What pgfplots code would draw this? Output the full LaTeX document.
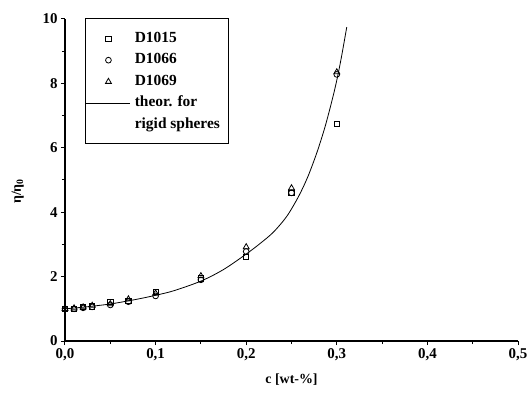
\documentclass[border=0pt]{standalone}
\usepackage{pgfplots}
\pgfplotsset{compat=1.18}
\usepackage{fontspec}
\setmainfont{Liberation Serif}
\pgfplotsset{
  markleg/.style={legend image code/.code={\draw[mark repeat=2,mark phase=2,##1] plot coordinates {(0bp,0bp)(22bp,0bp)(44bp,0bp)};}},
  lineleg/.style={legend image code/.code={\draw[##1] (0bp,0bp) -- (44bp,0bp);}},
}
\begin{document}
\begin{tikzpicture}
\path[use as bounding box] (-65bp,-54bp) rectangle (464bp,341bp);
\begin{axis}[
  scale only axis, width=453bp, height=322bp,
  xmin=0, xmax=0.5, ymin=0, ymax=10,
  axis lines*=left,
  axis line style={line width=1.2bp},
  tick style={line width=1bp, black},
  tick align=outside,
  xtick={0,0.1,0.2,0.3,0.4,0.5},
  minor x tick num=1,
  ytick={0,2,4,6,8,10},
  minor y tick num=1,
  major tick length=4bp, minor tick length=3bp,
  /pgf/number format/assume math mode=true,
  x tick label style={/pgf/number format/.cd, fixed, fixed zerofill, precision=1, use comma},
  tick label style={font=\fontsize{15}{17}\selectfont\bfseries},
  xlabel={c [wt-\%]},
  ylabel={η/η\textsubscript{0}},
  label style={font=\fontsize{14}{16}\selectfont\bfseries},
  xlabel style={at={(axis description cs:0.5,-0.121)}, anchor=center},
  ylabel style={at={(axis description cs:-0.104,0.465)}, anchor=center},
  legend style={at={(axis description cs:0.046,0.962)}, anchor=north west,
    draw=none, fill=none,
    font=\fontsize{15.5}{18}\selectfont\bfseries,
    inner xsep=0bp, inner ysep=0bp,
    nodes={inner xsep=0bp, inner ysep=0bp, text height=11bp, text depth=3.5bp},
    column sep=4bp, row sep=7bp},
  legend cell align=left,
  every axis plot/.append style={black},
]
\draw[line width=0.8bp] (axis description cs:0.046,1.003) rectangle (axis description cs:0.360,0.615);
\addplot[only marks, mark=square, mark size=2.7, mark options={line width=0.8bp}, markleg] coordinates {
(0,1.0)(0.01,1.0)(0.02,1.05)(0.03,1.08)(0.05,1.22)(0.07,1.25)(0.1,1.52)(0.15,1.95)(0.2,2.62)(0.25,4.6)(0.3,6.75)};
\addlegendentry{D1015}
\addplot[only marks, mark=o, mark size=2.9, mark options={line width=0.8bp}, markleg] coordinates {
(0,1.0)(0.01,1.0)(0.02,1.03)(0.03,1.06)(0.05,1.12)(0.07,1.22)(0.1,1.4)(0.15,1.9)(0.2,2.78)(0.25,4.6)(0.3,8.28)};
\addlegendentry{D1066}
\addplot[only marks, mark=triangle, mark size=3.4, mark options={line width=0.8bp}, markleg] coordinates {
(0,1.0)(0.01,1.02)(0.02,1.05)(0.03,1.1)(0.05,1.15)(0.07,1.3)(0.1,1.48)(0.15,2.02)(0.2,2.92)(0.25,4.75)(0.3,8.35)};
\addlegendentry{D1069}
\addplot[line width=0.8bp, smooth, no marks, lineleg] coordinates {
(0,1.00)(0.02,1.05)(0.05,1.15)(0.08,1.30)(0.10,1.42)(0.12,1.56)(0.15,1.86)(0.175,2.22)(0.20,2.70)(0.215,3.02)(0.23,3.38)(0.245,3.88)(0.258,4.50)(0.268,5.10)(0.278,5.85)(0.287,6.65)(0.295,7.50)(0.300,8.10)(0.305,8.80)(0.311,9.75)};
\addlegendentry{theor. for}
\addlegendimage{empty legend}
\addlegendentry{rigid spheres}
\end{axis}
\end{tikzpicture}
\end{document}
